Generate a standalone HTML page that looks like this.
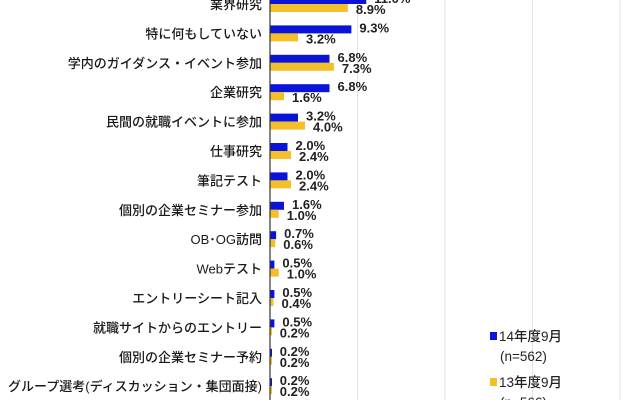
<!DOCTYPE html>
<html><head><meta charset="utf-8"><style>
body{margin:0;background:#fff;width:640px;height:400px;overflow:hidden}
svg text{font-family:"Liberation Sans","Noto Sans CJK JP",sans-serif}
</style></head><body>
<svg id="c" width="640" height="400" xmlns="http://www.w3.org/2000/svg"></svg>
<script>
const categories=["業界研究","特に何もしていない","学内のガイダンス・イベント参加","企業研究","民間の就職イベントに参加","仕事研究","筆記テスト","個別の企業セミナー参加","OB･OG訪問","Webテスト","エントリーシート記入","就職サイトからのエントリー","個別の企業セミナー予約","グループ選考(ディスカッション・集団面接)"];
const series14=[11.0,9.3,6.8,6.8,3.2,2.0,2.0,1.6,0.7,0.5,0.5,0.5,0.2,0.2];
const series13=[8.9,3.2,7.3,1.6,4.0,2.4,2.4,1.0,0.6,1.0,0.4,0.2,0.2,0.2];
const gridTicks=[10,20,30,40];
const svg=document.getElementById('c');
const NS='http://www.w3.org/2000/svg';
const x0=270,pxPer=8.75,y0=4,step=29.4;
const xs=v=>x0+v*pxPer, yc=i=>y0+i*step;
function mk(t,a){const e=document.createElementNS(NS,t);for(const k in a)e.setAttribute(k,a[k]);svg.appendChild(e);return e;}
gridTicks.forEach(t=>{const l=mk('line',{x1:xs(t),x2:xs(t),y1:0,y2:400,stroke:'#e2e2e2','stroke-width':1});

});
categories.forEach((c,i)=>{
 const y=yc(i);
 const t=mk('text',{x:262,y:y+5,'text-anchor':'end','font-size':13,'font-weight':500,fill:'#1a1a1a'});t.textContent=c;
 
 
 const b=mk('rect',{x:x0,y:y-8,width:Math.max(xs(series14[i])-x0,2),height:8,fill:'#0a14d8'});
 
 
 const g=mk('rect',{x:x0,y:y,width:Math.max(xs(series13[i])-x0,2),height:8,fill:'#f5bf2a'});
 
 
 const l1=mk('text',{x:xs(series14[i])+8,y:y-1,'font-size':13,'font-weight':'bold',fill:'#222'});l1.textContent=series14[i].toFixed(1)+'%';
 
 
 const l2=mk('text',{x:xs(series13[i])+8,y:y+10,'font-size':13,'font-weight':'bold',fill:'#222'});l2.textContent=series13[i].toFixed(1)+'%';
 
 
});
const ax=mk('line',{x1:x0,x2:x0,y1:0,y2:400,stroke:'#333','stroke-width':1.2});


const legend=[[332,'#0a14d8','14年度9月','(n=562)'],[378,'#f5bf2a','13年度9月','(n=566)']];
legend.forEach((d,i)=>{
 const s=mk('rect',{x:490,y:d[0],width:7,height:8,fill:d[1]});
 
 
 const t=mk('text',{x:499,y:d[0]+9,'font-size':13.5,'font-weight':500,fill:'#222'});t.textContent=d[2];
 
 
 const n=mk('text',{x:500,y:d[0]+29,'font-size':13.5,'font-weight':500,fill:'#222'});n.textContent=d[3];
 
 
});
</script>
</body></html>
